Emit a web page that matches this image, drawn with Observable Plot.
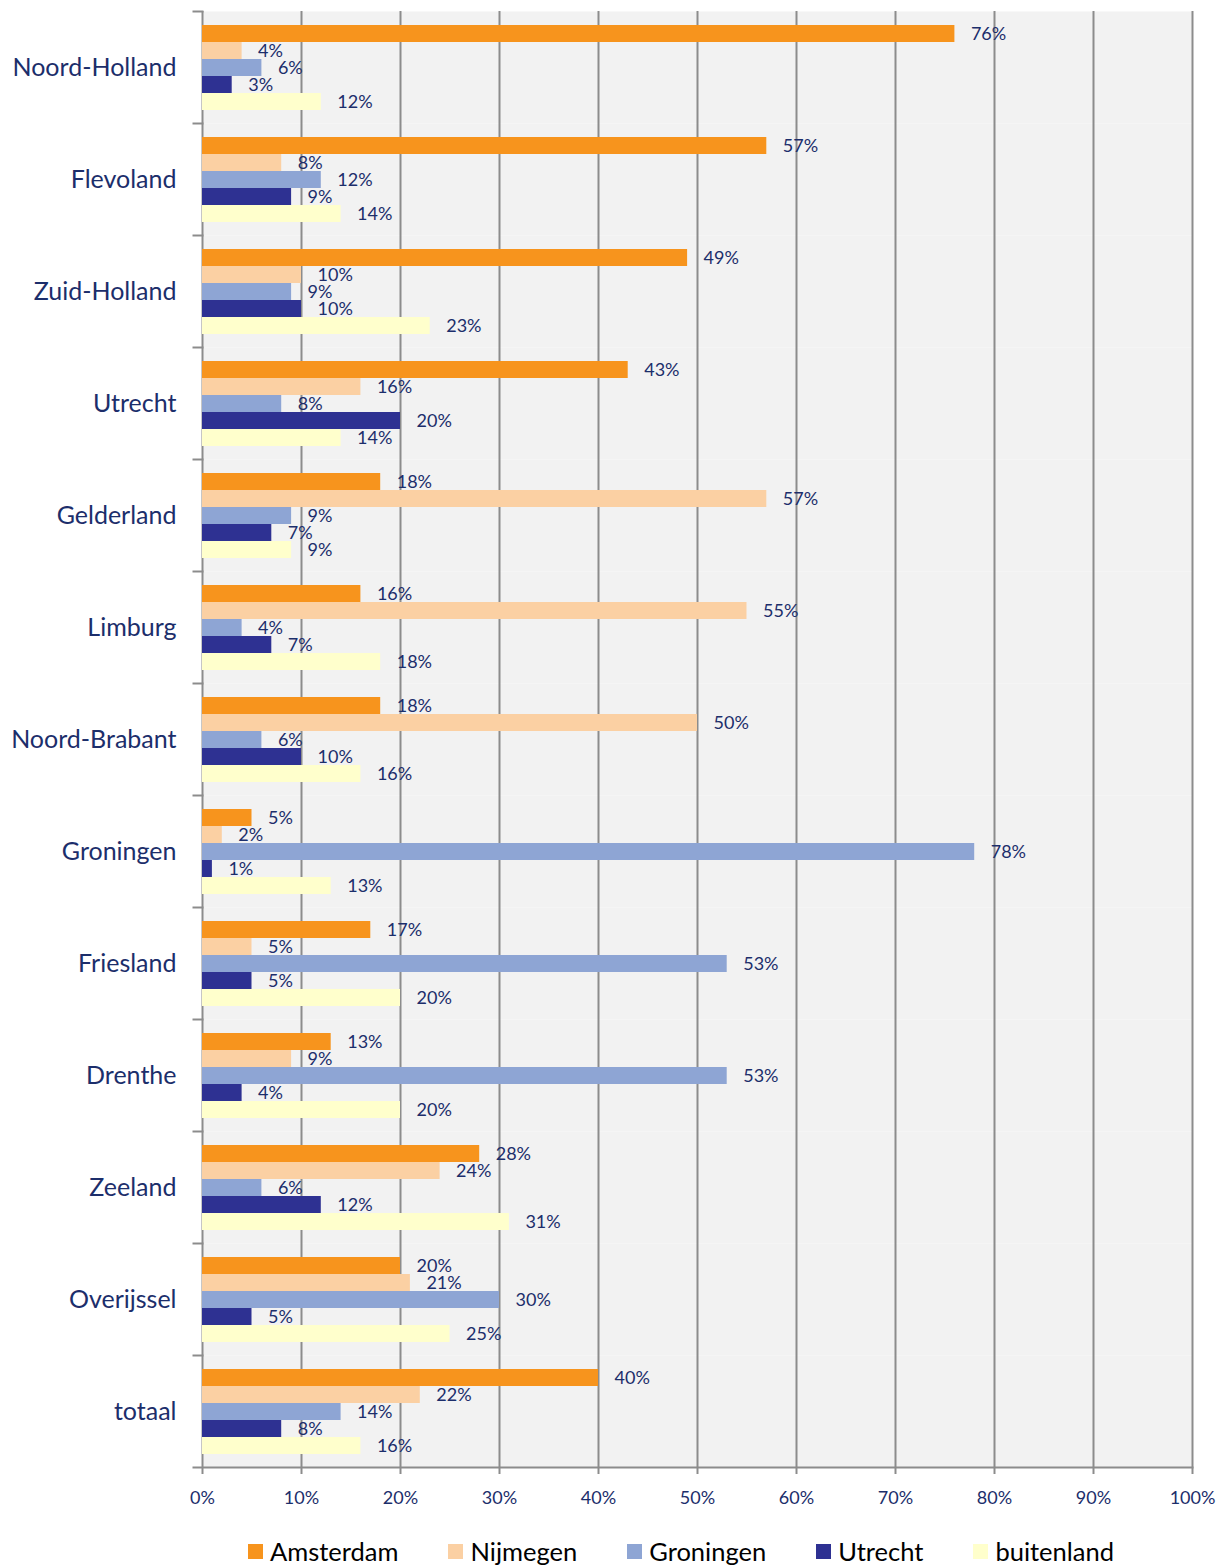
<!DOCTYPE html>
<html><head><meta charset="utf-8">
<script src="https://cdn.jsdelivr.net/npm/d3@7"></script>
<script src="https://cdn.jsdelivr.net/npm/@observablehq/plot@0.6"></script>
<style>
body{margin:0;background:#fff;font-family:Lato,"Open Sans",sans-serif;}
#legend{display:flex;align-items:center;margin-left:248px;padding-top:10px;height:30px;font-size:25.5px;color:#000;}
.item{display:flex;align-items:center;margin-right:50px;}
.sw{width:15px;height:15px;margin-right:7px;}
</style></head><body>
<div id="chart"></div>
<div id="legend"></div>
<script>
const provinces = ["Noord-Holland","Flevoland","Zuid-Holland","Utrecht","Gelderland","Limburg","Noord-Brabant","Groningen","Friesland","Drenthe","Zeeland","Overijssel","totaal"];
const series = ["Amsterdam","Nijmegen","Groningen","Utrecht","buitenland"];
const amsterdam  = [76,57,49,43,18,16,18,5,17,13,28,20,40];
const nijmegen   = [4,8,10,16,57,55,50,2,5,9,24,21,22];
const groningen  = [6,12,9,8,9,4,6,78,53,53,6,30,14];
const utrecht    = [3,9,10,20,7,7,10,1,5,4,12,5,8];
const buitenland = [12,14,23,14,9,18,16,13,20,20,31,25,16];
const colors = ["#F7941D","#FBD0A3","#8EA5D4","#2E3192","#FFFFCC"];
const xTicks = [0,0.1,0.2,0.3,0.4,0.5,0.6,0.7,0.8,0.9,1];

const seriesValues = [amsterdam, nijmegen, groningen, utrecht, buitenland];
const data = provinces.flatMap((p, i) => series.map((s, j) => ({province: p, series: s, value: seriesValues[j][i] / 100})));

const navy = "#1c2e6b";
const grid = "#8c8c8c";
const W = 1227, ML = 202, MR = 35;

const chart = Plot.plot({
  width: W, height: 1526,
  marginTop: 8, marginBottom: 56, marginLeft: ML, marginRight: MR,
  style: {fontFamily: "Lato, 'Open Sans', sans-serif", background: "transparent"},
  x: {domain: [0, 1]},
  y: {domain: series, paddingInner: 0, paddingOuter: 0.754, axis: null},
  fy: {domain: provinces, padding: 0, axis: null},
  color: {domain: series, range: colors},
  marks: [
    Plot.frame({fill: "#f2f2f2", stroke: null}),
    Plot.ruleX(xTicks, {stroke: grid, strokeWidth: 2}),
    Plot.frame({anchor: "top", insetLeft: -9, insetRight: W - ML - MR, stroke: grid, strokeWidth: 2}),
    Plot.frame({anchor: "bottom", facetAnchor: "bottom", insetLeft: -9, stroke: grid, strokeWidth: 2}),
    Plot.barX(data, {x: "value", y: "series", fy: "province", fill: "series"}),
    Plot.text(data, {x: "value", y: "series", fy: "province", text: d => Math.round(d.value * 100) + "%", dx: 16, textAnchor: "start", fill: navy, fontSize: 18}),
    Plot.axisX({anchor: "bottom", ticks: xTicks, tickFormat: d => Math.round(d * 100) + "%", tickSize: 7, stroke: grid, strokeWidth: 2, fill: navy, fontSize: 18, tickPadding: 17, label: null}),
    Plot.axisFy({anchor: "left", tickSize: 0, tickPadding: 26, fontSize: 25, fill: navy, label: null})
  ]
});
document.getElementById("chart").append(chart);

const legend = document.getElementById("legend");
series.forEach((s, i) => {
  const it = document.createElement("div"); it.className = "item";
  const sw = document.createElement("div"); sw.className = "sw"; sw.style.background = colors[i];
  const t = document.createElement("span"); t.textContent = s;
  it.append(sw, t); legend.append(it);
});
</script>
</body></html>
